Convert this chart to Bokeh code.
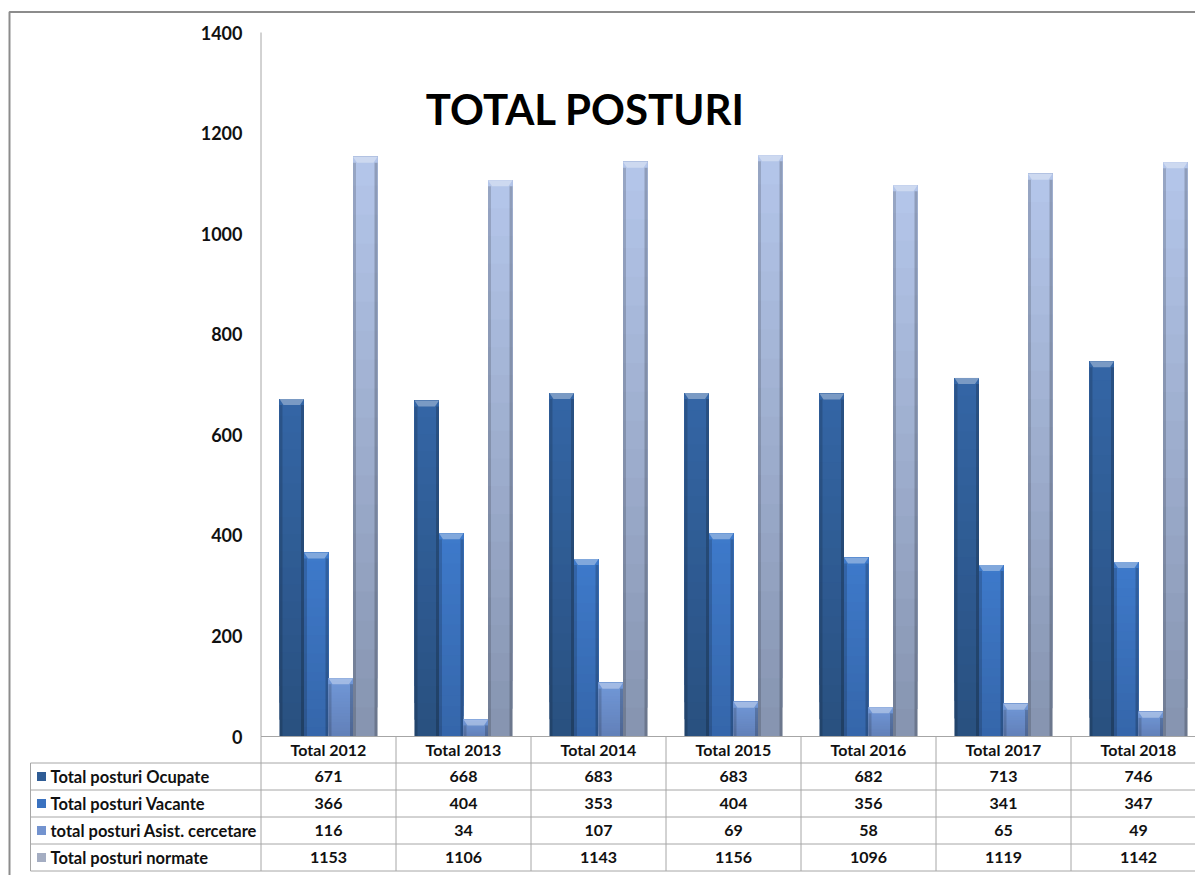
import numpy as np
from bokeh.plotting import figure
from bokeh.models import Range1d
from bokeh.core.properties import value
from bokeh.embed import file_html
from bokeh.resources import INLINE

# ---------------- data ----------------
categories = ["Total 2012", "Total 2013", "Total 2014", "Total 2015",
              "Total 2016", "Total 2017", "Total 2018"]
series_names = ["Total posturi Ocupate", "Total posturi Vacante",
                "total posturi Asist. cercetare", "Total posturi normate"]
ocupate = [671, 668, 683, 683, 682, 713, 746]
vacante = [366, 404, 353, 404, 356, 341, 347]
asist = [116, 34, 107, 69, 58, 65, 49]
normate = [1153, 1106, 1143, 1156, 1096, 1119, 1142]
y_ticks = [0, 200, 400, 600, 800, 1000, 1200, 1400]
title_text = "TOTAL POSTURI"

# ---------------- styles ----------------
top_colors = ["#3466A6", "#3E7ACB", "#7198D8", "#B4C6EA"]
bottom_colors = ["#29507F", "#3566AA", "#6280B8", "#8694B0"]
icon_colors = ["#2F5C95", "#3A72C0", "#7393CF", "#A4ADC2"]
FONT = "Lato"

W, H = 1195, 875
AXIS_PX = 260.5      # canvas x of the value axis
CAT_W = 135.0        # pixels per category
ZERO_PY = 736.0      # canvas y of value 0
PPU = 704.0 / 1400.0  # pixels per value unit


def cx(px):
    return (px - AXIS_PX) / CAT_W


def cy(py):
    return (ZERO_PY - py) / PPU


p = figure(width=W, height=H, output_backend="svg", toolbar_location=None,
           x_range=Range1d(cx(0), cx(W)), y_range=Range1d(cy(H), cy(0)),
           min_border=0, outline_line_color=None)
p.axis.visible = False
p.grid.visible = False
p.background_fill_color = "white"
p.border_fill_color = "white"

# outer chart frame
p.line([cx(9), cx(9), cx(W + 5)], [cy(H + 5), cy(11.5), cy(11.5)],
       line_color="#8C8C8C", line_width=2)

# value axis line
p.segment(x0=[0], y0=[0], x1=[0], y1=[max(y_ticks)], line_color="#A6A6A6", line_width=1)

# tick labels
p.text(x=[cx(242)] * len(y_ticks), y=y_ticks, text=[str(t) for t in y_ticks],
       text_align="right", text_baseline="middle", text_font=value(FONT),
       text_font_style="bold", text_font_size=value("18px"), text_color="#111111")

# title
p.text(x=[cx(585)], y=[cy(108)], text=[title_text], text_align="center",
       text_baseline="middle", text_font=value(FONT), text_font_style="bold",
       text_font_size=value("42px"), text_color="#000000")

# ---------------- bars ----------------
series = [ocupate, vacante, asist, normate]
bw = 24.5 / CAT_W
N = 20


def mix(c1, c2, t):
    a = [int(c1[i:i + 2], 16) for i in (1, 3, 5)]
    b = [int(c2[i:i + 2], 16) for i in (1, 3, 5)]
    return "#%02x%02x%02x" % tuple(int(round(a[j] + (b[j] - a[j]) * t)) for j in range(3))


inset = 4.0 / CAT_W
cap_h = 6.0 / PPU
side_w = 3.0 / CAT_W
for k, vals in enumerate(series):
    vals = np.array(vals, dtype=float)
    centers = np.arange(len(categories)) + 0.5 + (k - 1.5) * bw
    # layered gradient: each layer spans from its start up to the bar top
    xs, bots, tops, cols = [], [], [], []
    for s in range(N):
        c = mix(bottom_colors[k], top_colors[k], (s + 0.5) / N)
        for i in range(len(vals)):
            xs.append(centers[i])
            bots.append(vals[i] * s / N)
            tops.append(vals[i])
            cols.append(c)
    p.vbar(x=xs, bottom=bots, top=tops, width=bw, fill_color=cols, line_color=None)
    # darker side edges
    p.vbar(x=centers - bw / 2 + side_w / 2, bottom=0, top=vals - cap_h, width=side_w,
           fill_color="#000000", fill_alpha=0.16, line_color=None)
    p.vbar(x=centers + bw / 2 - side_w / 2, bottom=0, top=vals - cap_h, width=side_w,
           fill_color="#000000", fill_alpha=0.20, line_color=None)
    # light top bevel
    xs_p = [[c - bw / 2, c + bw / 2, c + bw / 2 - inset, c - bw / 2 + inset] for c in centers]
    ys_p = [[v, v, v - cap_h, v - cap_h] for v in vals]
    p.patches(xs_p, ys_p, fill_color="#FFFFFF", fill_alpha=0.35, line_color=None)

# ---------------- data table ----------------
grid_col = "#A6A6A6"
n = len(categories)
row_edges_py = [736.0, 762.5, 789.5, 816.5, 843.5, 870.5]
row_edges = [cy(v) for v in row_edges_py]
right = cx(W + 5)
left_tab = cx(30)
# horizontal lines
hx0 = [0.0] + [left_tab] * 5
p.segment(x0=hx0, y0=row_edges, x1=[right] * 6, y1=row_edges, line_color=grid_col, line_width=1)
# vertical lines
vx = [left_tab] + list(range(n + 1))
vy0 = [row_edges[1]] + [row_edges[0]] * (n + 1)
p.segment(x0=vx, y0=vy0, x1=vx, y1=[row_edges[-1]] * len(vx), line_color=grid_col, line_width=1)

# header
hdr_y = (row_edges[0] + row_edges[1]) / 2
p.text(x=np.arange(n) + 0.5, y=[hdr_y] * n, text=categories, text_align="center",
       text_baseline="middle", text_font=value(FONT), text_font_style="bold",
       text_font_size=value("16px"), text_color="#111111")

for r, (name, vals) in enumerate(zip(series_names, series)):
    yc = (row_edges[r + 1] + row_edges[r + 2]) / 2
    p.text(x=np.arange(n) + 0.5, y=[yc] * n, text=[str(v) for v in vals], text_align="center",
           text_baseline="middle", text_font=value(FONT), text_font_style="bold",
           text_font_size=value("16px"), text_color="#111111")
    p.text(x=[cx(50)], y=[yc], text=[name], text_align="left", text_baseline="middle",
           text_font=value(FONT), text_font_style="bold", text_font_size=value("16.5px"),
           text_color="#111111")
    p.rect(x=[cx(41)], y=[yc], width=9, height=9, width_units="screen", height_units="screen",
           fill_color=icon_colors[r], line_color=None)

open("out.html", "w").write(file_html(p, INLINE))
